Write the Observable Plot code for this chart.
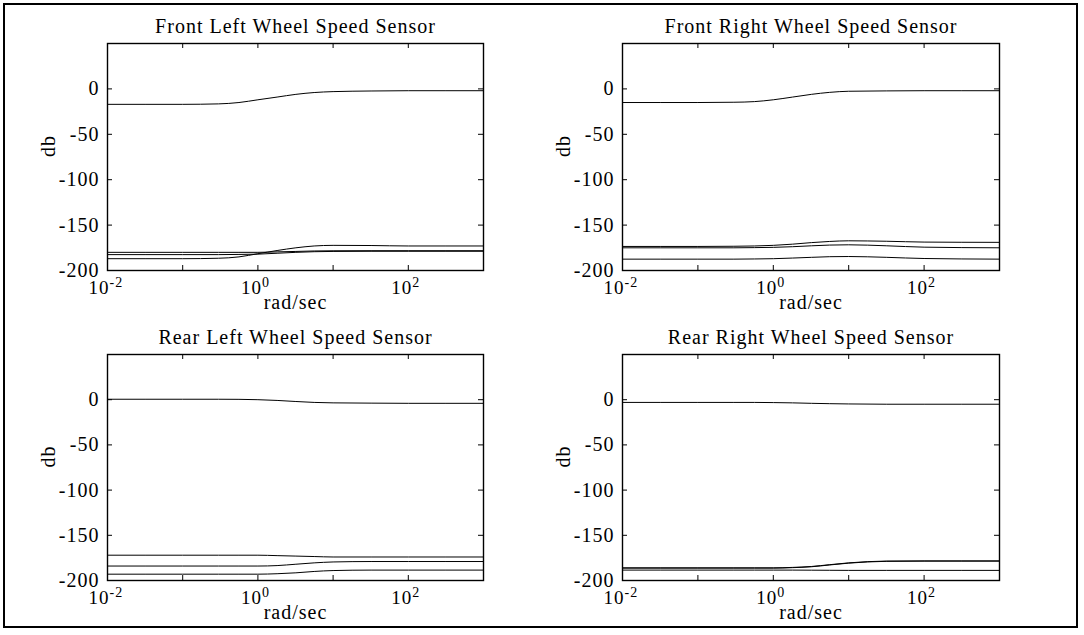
<!DOCTYPE html>
<html>
<head>
<meta charset="utf-8">
<script src="https://cdn.jsdelivr.net/npm/d3@7"></script>
<script src="https://cdn.jsdelivr.net/npm/@observablehq/plot@0.6"></script>
<style>
  html, body { margin: 0; padding: 0; background: #fff; }
  #fig { position: relative; width: 1084px; height: 635px; background: #fff; }
  #border { position: absolute; left: 3px; top: 3px; width: 1071px; height: 621px; border: 2px solid #000; }
  .panel { position: absolute; }
  .panel text { letter-spacing: 1px; }
</style>
</head>
<body>
<div id="fig"><div id="border"></div></div>
<script>
// Frequencies (rad/sec) at which values were read
const freq = [0.01, 0.1, 0.3, 0.56, 1, 1.8, 3.2, 5.6, 10, 32, 100, 1000];

// Front Left Wheel Speed Sensor (db)
const fl0 = [-17, -17, -16.5, -15, -12, -9, -6, -4, -3, -2.3, -2, -2];
const fl1 = [-187, -187, -186.5, -185, -181.5, -178, -175, -173, -172.3, -172.5, -173, -173];
const fl2 = [-180, -180, -180, -180, -180, -179.5, -179, -178.5, -178.3, -178.2, -178.2, -178.2];
const fl3 = [-182.5, -182.5, -182.5, -182.3, -182, -181, -180, -179.3, -179, -178.8, -178.8, -178.8];

// Front Right Wheel Speed Sensor (db)
const fr0 = [-15, -15, -14.7, -14, -12, -9, -6, -3.8, -2.6, -2.2, -2, -2];
const fr1 = [-173.5, -173.5, -173.3, -173, -172.3, -171, -169.3, -168, -167.3, -167.8, -168.7, -169];
const fr2 = [-175, -175, -175, -174.8, -174.5, -173.8, -172.8, -172, -171.7, -172.8, -174.3, -175];
const fr3 = [-187.5, -187.5, -187.5, -187.3, -187, -186.3, -185.5, -184.8, -184.6, -185.5, -186.8, -187.5];

// Rear Left Wheel Speed Sensor (db)
const rl0 = [0.5, 0.5, 0.5, 0.4, 0, -0.8, -2, -3, -3.5, -3.8, -4, -4];
const rl1 = [-172, -172, -172, -172, -172, -172.5, -173, -173.5, -174, -174, -174, -174];
const rl2 = [-184, -184, -184, -184, -184, -183.5, -182, -180.5, -179.5, -179, -179, -179];
const rl3 = [-193, -193, -193, -193, -193, -192.5, -191.5, -190, -189, -188.5, -188.5, -188.5];

// Rear Right Wheel Speed Sensor (db)
const rr0 = [-3, -3, -3, -3, -3.2, -3.5, -4, -4.4, -4.7, -5, -5, -5];
const rr1 = [-186, -186, -186, -186, -186, -185.5, -184.5, -182.5, -180.5, -178.5, -178.3, -178.3];
const rr2 = [-186.3, -186.3, -186.3, -186.3, -186.3, -185.8, -184.8, -182.8, -180.8, -178.8, -178.6, -178.6];
const rr3 = [-188.5, -188.5, -188.5, -188.5, -188.5, -188.5, -188.6, -188.7, -188.8, -188.8, -188.8, -188.8];

// Titles and tick labels
const titles = ["Front Left Wheel Speed Sensor", "Front Right Wheel Speed Sensor",
                "Rear Left Wheel Speed Sensor", "Rear Right Wheel Speed Sensor"];
const xTickValues = [0.01, 0.1, 1, 10, 100, 1000];
const xTickLabels = [{value: 0.01, exp: "-2"}, {value: 1, exp: "0"}, {value: 100, exp: "2"}];
const yTickValues = [-200, -150, -100, -50, 0, 50];
const yTickLabels = [-200, -150, -100, -50, 0];
const xLabel = "rad/sec";
const yLabel = "db";

const seriesByPanel = [[fl0, fl1, fl2, fl3], [fr0, fr1, fr2, fr3], [rl0, rl1, rl2, rl3], [rr0, rr1, rr2, rr3]];

const layout = [
  {left: 0,   top: 0,   mL: 107, mR: 57, mT: 43, mB: 45},
  {left: 540, top: 0,   mL: 82,  mR: 81, mT: 43, mB: 45},
  {left: 0,   top: 311, mL: 107, mR: 57, mT: 43, mB: 46},
  {left: 540, top: 311, mL: 82,  mR: 81, mT: 43, mB: 46}
];

const W = 540, H = 315;
const font = "'Liberation Serif', 'Times New Roman', serif";
const fig = document.getElementById("fig");

seriesByPanel.forEach((series, p) => {
  const L = layout[p];
  const fw = W - L.mL - L.mR;
  const fh = H - L.mT - L.mB;
  const data = series.flatMap((s, k) => freq.map((f, i) => ({f, db: s[i], k})));

  const labelMarks = xTickLabels.flatMap(l => {
    const shift = l.exp.length > 1 ? 1 : 3;
    return [
      Plot.text([l], {x: "value", text: () => "10", frameAnchor: "bottom", lineAnchor: "bottom",
        textAnchor: "end", dx: shift + 1, dy: 23, fontSize: 19, fill: "black"}),
      Plot.text([l], {x: "value", text: "exp", frameAnchor: "bottom", lineAnchor: "bottom",
        textAnchor: "start", dx: shift + 1, dy: 16, fontSize: 14, fill: "black"})
    ];
  });

  const chart = Plot.plot({
    width: W, height: H,
    marginLeft: L.mL, marginRight: L.mR, marginTop: L.mT, marginBottom: L.mB,
    style: {fontFamily: font, fontSize: "20px", background: "transparent", color: "black", overflow: "visible"},
    x: {type: "log", domain: [0.01, 1000], axis: null},
    y: {domain: [-200, 50]},
    marks: [
      Plot.axisY({ticks: yTickLabels, tickSize: 0, tickPadding: 8, tickFormat: d => String(d),
        label: null, fontSize: 20, fill: "black"}),
      Plot.line(data, {x: "f", y: "db", z: "k", stroke: "black", strokeWidth: 1, curve: "monotone-x"}),
      Plot.tickX(xTickValues, {x: d => d, insetTop: fh - 5, stroke: "black"}),
      Plot.tickX(xTickValues, {x: d => d, insetBottom: fh - 5, stroke: "black"}),
      Plot.tickY(yTickValues, {y: d => d, insetRight: fw - 5, stroke: "black"}),
      Plot.tickY(yTickValues, {y: d => d, insetLeft: fw - 5, stroke: "black"}),
      Plot.frame({stroke: "black", strokeWidth: 1.4}),
      ...labelMarks,
      Plot.text([titles[p]], {text: d => d, frameAnchor: "top", lineAnchor: "bottom", dy: -11,
        fontSize: 20, fill: "black"}),
      Plot.text([xLabel], {text: d => d, frameAnchor: "bottom", lineAnchor: "bottom", dy: 38,
        fontSize: 20, fill: "black"}),
      Plot.text([yLabel], {text: d => d, frameAnchor: "left", lineAnchor: "middle", rotate: -90,
        dx: -59, fontSize: 20, fill: "black"})
    ]
  });
  const wrap = document.createElement("div");
  wrap.className = "panel";
  wrap.style.left = L.left + "px";
  wrap.style.top = L.top + "px";
  wrap.appendChild(chart);
  fig.appendChild(wrap);
});
</script>
</body>
</html>
